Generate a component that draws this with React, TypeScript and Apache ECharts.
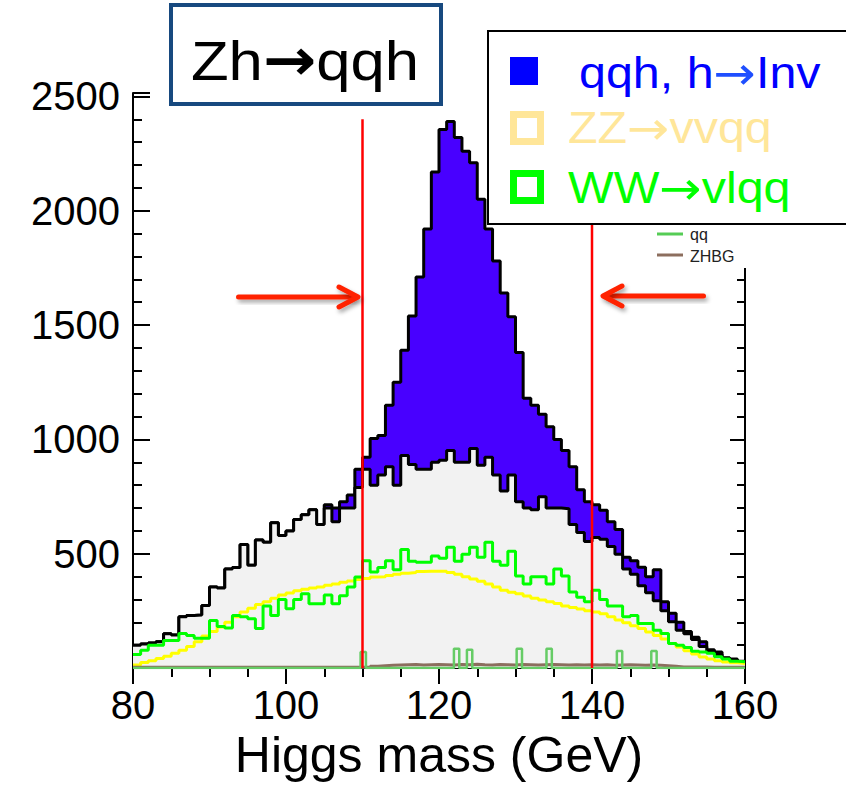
import React, { useEffect, useRef } from "react";
import * as echarts from "echarts";

// ---- data (1 GeV bins from 80 to 160 GeV) ----
const massMin = 80;
const massMax = 160;
const binWidth = 1;

const totalCounts = [
  100, 105, 110, 115, 150, 145, 225, 230, 232, 274, 355, 350, 433, 440, 541, 450, 560, 550, 636, 580,
  600, 650, 671, 693, 628, 714, 700, 727, 757, 870,
  922, 1004, 1017, 1150, 1250, 1390, 1540, 1710, 1920, 2170,
  2355, 2390, 2320, 2260, 2210, 2050, 1920, 1780, 1640, 1537,
  1380, 1180, 1150, 1110, 1055, 1000, 952, 880, 780, 727,
  714, 690, 640, 606, 485, 470, 441, 400, 430, 290,
  240, 200, 160, 135, 115, 80, 70, 45, 40, 30,
];

const backgroundCounts = [
  100, 105, 110, 115, 150, 145, 225, 230, 232, 274, 355, 350, 433, 440, 541, 450, 560, 550, 636, 580,
  600, 650, 671, 693, 628, 700, 640, 700, 700, 790,
  870, 800, 844, 880, 800, 930, 890, 870, 870, 900,
  909, 952, 900, 900, 960, 887, 922, 844, 775, 844,
  727, 700, 693, 749, 700, 700, 697, 628, 593, 554,
  571, 563, 532, 498, 433, 410, 360, 330, 294, 251,
  203, 165, 150, 125, 95, 70, 60, 43, 36, 28,
];

const wwCounts = [
  60, 78, 100, 100, 121, 121, 151, 143, 130, 130, 208, 182, 175, 230, 225, 216, 173, 272, 230, 300,
  260, 300, 325, 281, 281, 320, 281, 316, 355, 398,
  470, 420, 440, 470, 430, 519, 467, 463, 463, 490,
  480, 528, 467, 498, 528, 485, 550, 467, 450, 511,
  403, 368, 400, 400, 368, 433, 403, 333, 310, 290,
  340, 300, 272, 272, 225, 230, 195, 195, 165, 151,
  108, 100, 90, 74, 70, 65, 50, 40, 30, 28,
];

const zzCounts = [
  14, 25, 32, 42, 52, 65, 78, 95, 115, 140, 160, 180, 200, 225, 245, 262, 278, 290, 305, 320,
  328, 338, 345, 350, 355, 362, 368, 375, 381, 388,
  392, 398, 400, 405, 410, 415, 418, 422, 424, 424,
  424, 418, 410, 400, 390, 380, 368, 355, 340, 332,
  325, 315, 305, 298, 290, 282, 272, 265, 258, 251,
  245, 238, 225, 210, 198, 185, 173, 158, 143, 127,
  108, 92, 76, 62, 48, 40, 32, 27, 23, 20,
];

const zhbgCounts = [
  4, 4, 4, 4, 4, 4, 4, 4, 4, 4, 4, 4, 4, 4, 4, 4, 4, 4, 4, 4,
  4, 4, 4, 4, 4, 4, 4, 4, 4, 4,
  4, 8, 10, 12, 14, 15, 16, 14, 15, 16,
  15, 14, 16, 15, 17, 15, 14, 16, 15, 14,
  16, 15, 14, 15, 16, 15, 14, 15, 14, 15,
  14, 15, 13, 14, 15, 14, 13, 14, 12, 10,
  8, 5, 5, 5, 5, 4, 4, 4, 4, 4,
];

const qqSpikeMass = [110.1, 122.3, 124.0, 130.5, 134.4, 143.6, 148.1];
const qqSpikeCounts = [70, 85, 80, 85, 85, 75, 75];
const qqSpikeWidth = 0.7;

const cutLow = 110;
const cutHigh = 140;
const cutLineTop = 2400;

const xTickLabels = [80, 100, 120, 140, 160];
const yTickLabels = [500, 1000, 1500, 2000, 2500];

const FONT = "'Liberation Sans', Arial, 'DejaVu Sans', sans-serif";
const ARROW_FONT = "'DejaVu Sans', sans-serif";

function histPoints(counts: number[]) {
  const pts: number[][] = counts.map((v, i) => [massMin + i * binWidth, v]);
  pts.push([massMin + counts.length * binWidth, counts[counts.length - 1]]);
  return pts;
}

function spikePoints() {
  const pts: number[][] = [[massMin, 0]];
  qqSpikeMass.forEach((m, i) => {
    const h = qqSpikeCounts[i];
    pts.push([m - qqSpikeWidth / 2, 0], [m - qqSpikeWidth / 2, h], [m + qqSpikeWidth / 2, h], [m + qqSpikeWidth / 2, 0]);
  });
  pts.push([massMax, 0]);
  return pts;
}

const shadow = { shadowBlur: 4, shadowOffsetX: 2, shadowOffsetY: 3, shadowColor: "rgba(0,0,0,0.35)" };

function legendText(x: number, y: number, before: string, after: string, color: string, arrowColor: string) {
  return {
    type: "text",
    z: 61,
    x,
    y,
    scaleX: 1.1,
    style: {
      x: 0,
      y: 0,
      text: `${before}{a|→}${after}`,
      fontSize: 44,
      fontFamily: FONT,
      fill: color,
      verticalAlign: "middle",
      rich: { a: { fontSize: 46, fontFamily: ARROW_FONT, fill: arrowColor } },
    },
  };
}

export default function App() {
  const ref = useRef<HTMLDivElement>(null);

  useEffect(() => {
    if (!ref.current) return;
    const chart = echarts.init(ref.current, undefined, { renderer: "svg" });

    const yMax = 2515;
    const tickStyle = { color: "#000", width: 2 };

    const histLine = (name: string, counts: number[], color: string, width: number, z: number, area?: string) => ({
      name,
      type: "line",
      step: "end",
      data: histPoints(counts),
      symbol: "none",
      z,
      lineStyle: { color, width },
      areaStyle: area ? { color: area, opacity: 1 } : undefined,
      silent: true,
    });

    const option: any = {
      animation: false,
      backgroundColor: "#ffffff",
      grid: { left: 133, right: 101, top: 93, bottom: 112 },
      xAxis: [
        {
          type: "value",
          min: massMin,
          max: massMax,
          interval: 20,
          position: "bottom",
          axisLine: { show: true, lineStyle: { color: "#000", width: 2 } },
          axisTick: { show: false },
          splitLine: { show: false },
          axisLabel: {
            fontSize: 40,
            color: "#000",
            fontFamily: FONT,
            margin: 17,
            formatter: (v: number) => (xTickLabels.includes(v) ? String(v) : ""),
          },
          name: "Higgs mass (GeV)",
          nameLocation: "middle",
          nameGap: 61,
          nameTextStyle: { fontSize: 50, color: "#000", fontFamily: FONT },
        },
        {
          type: "value",
          min: massMin,
          max: massMax,
          interval: 20,
          position: "top",
          axisLine: { show: true, lineStyle: { color: "#000", width: 2 } },
          axisTick: { show: true, inside: true, length: 16, lineStyle: tickStyle },
          minorTick: { show: true, splitNumber: 4, length: 9, lineStyle: tickStyle },
          splitLine: { show: false },
          axisLabel: { show: false },
        },
      ],
      yAxis: [
        {
          type: "value",
          min: 0,
          max: yMax,
          interval: 500,
          position: "left",
          axisLine: { show: true, lineStyle: { color: "#000", width: 2 } },
          axisTick: { show: true, inside: true, length: 17, lineStyle: tickStyle },
          minorTick: { show: true, splitNumber: 5, length: 9, lineStyle: tickStyle },
          splitLine: { show: false },
          axisLabel: {
            fontSize: 40,
            color: "#000",
            fontFamily: FONT,
            margin: 13,
            formatter: (v: number) => (yTickLabels.includes(v) ? String(v) : ""),
          },
        },
        {
          type: "value",
          min: 0,
          max: yMax,
          interval: 500,
          position: "right",
          axisLine: { show: true, lineStyle: { color: "#000", width: 2 } },
          axisTick: { show: true, inside: true, length: 15, lineStyle: tickStyle },
          minorTick: { show: true, splitNumber: 5, length: 8, lineStyle: tickStyle },
          splitLine: { show: false },
          axisLabel: { show: false },
        },
      ],
      series: [
        histLine("qqh, h→Inv", totalCounts, "#000", 3, 2, "#4800ff"),
        histLine("background", backgroundCounts, "#000", 3, 3, "#f2f2f2"),
        histLine("ZZ→vvqq", zzCounts, "#ffff00", 3, 4),
        histLine("WW→vlqq", wwCounts, "#00ff00", 3, 5),
        histLine("ZHBG", zhbgCounts, "#8c6e5e", 3, 4),
        {
          name: "qq",
          type: "line",
          data: spikePoints(),
          symbol: "none",
          z: 4,
          lineStyle: { color: "#66cc66", width: 2.5 },
          silent: true,
        },
        {
          name: "cutLow",
          type: "line",
          data: [[cutLow, 0], [cutLow, cutLineTop]],
          symbol: "none",
          z: 8,
          lineStyle: { color: "#ff0000", width: 2.5 },
          silent: true,
        },
        {
          name: "cutHigh",
          type: "line",
          data: [[cutHigh, 0], [cutHigh, cutLineTop]],
          symbol: "none",
          z: 8,
          lineStyle: { color: "#ff0000", width: 2.5 },
          silent: true,
        },
      ],
      graphic: [
        // ROOT legend area (hides upper right axis)
        { type: "rect", z: 50, shape: { x: 625, y: 222, width: 140, height: 46 }, style: { fill: "#fff" } },
        { type: "line", z: 51, shape: { x1: 657, y1: 234, x2: 683, y2: 234 }, style: { stroke: "#55cc55", lineWidth: 3 } },
        { type: "line", z: 51, shape: { x1: 657, y1: 255, x2: 683, y2: 255 }, style: { stroke: "#8c6e5e", lineWidth: 3 } },
        { type: "text", z: 51, style: { x: 690, y: 234, text: "qq", font: `16px ${FONT}`, fill: "#222", verticalAlign: "middle" } },
        { type: "text", z: 51, style: { x: 690, y: 256, text: "ZHBG", font: `16px ${FONT}`, fill: "#222", verticalAlign: "middle" } },
        // arrows
        { type: "rect", z: 40, shape: { x: 236, y: 294.5, width: 119, height: 5, r: 2.5 }, style: { fill: "#ff2200", ...shadow } },
        { type: "polyline", z: 40, shape: { points: [[339, 287], [358, 297], [339, 307]] }, style: { stroke: "#ff2200", lineWidth: 5, lineCap: "round", lineJoin: "round", fill: "none", ...shadow } },
        { type: "rect", z: 40, shape: { x: 606, y: 293.5, width: 100, height: 5, r: 2.5 }, style: { fill: "#ff2200", ...shadow } },
        { type: "polyline", z: 40, shape: { points: [[622, 286], [603, 296], [622, 306]] }, style: { stroke: "#ff2200", lineWidth: 5, lineCap: "round", lineJoin: "round", fill: "none", ...shadow } },
        // title box
        { type: "rect", z: 60, shape: { x: 171, y: 5, width: 270, height: 99 }, style: { fill: "#fff", stroke: "#17497f", lineWidth: 4 } },
        {
          type: "text",
          z: 61,
          x: 305,
          y: 60,
          scaleX: 1.1,
          style: {
            x: 0,
            y: 0,
            text: "Zh{a|→}qqh",
            fontSize: 56,
            fontFamily: FONT,
            fill: "#000",
            align: "center",
            verticalAlign: "middle",
            rich: { a: { fontSize: 58, fontFamily: ARROW_FONT, fontWeight: "bold", fill: "#000" } },
          },
        },
        // legend box
        { type: "rect", z: 60, shape: { x: 488, y: 31, width: 370, height: 193 }, style: { fill: "#fff", stroke: "#000", lineWidth: 2 } },
        { type: "rect", z: 61, shape: { x: 510, y: 57, width: 28, height: 28 }, style: { fill: "#0000ff" } },
        legendText(579, 73, "qqh, h", "Inv", "#0000ff", "#1f4fff"),
        { type: "rect", z: 61, shape: { x: 513.5, y: 114.5, width: 27, height: 27 }, style: { fill: "none", stroke: "#ffe699", lineWidth: 7 } },
        legendText(568, 128, "ZZ", "vvqq", "#ffe699", "#ffe699"),
        { type: "rect", z: 61, shape: { x: 513.5, y: 173.5, width: 27, height: 27 }, style: { fill: "none", stroke: "#00ff00", lineWidth: 7 } },
        legendText(568, 188, "WW", "vlqq", "#00ff00", "#00ff00"),
      ],
    };

    chart.setOption(option);
    return () => chart.dispose();
  }, []);

  return (
    <div
      ref={ref}
      style={{ position: "fixed", left: 0, top: 0, width: 846, height: 785, background: "#fff" }}
    />
  );
}
